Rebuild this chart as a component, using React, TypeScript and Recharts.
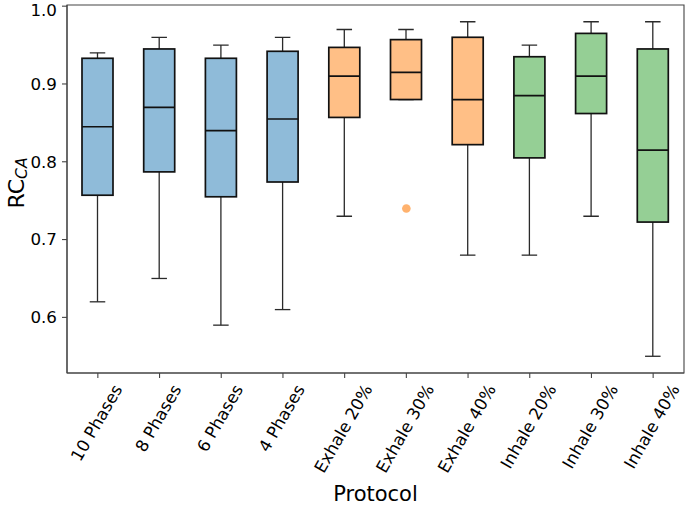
import React from "react";
import {
  ComposedChart,
  Bar,
  Scatter,
  XAxis,
  YAxis,
  ReferenceArea,
} from "recharts";

// box statistics
const categories = [
  "10 Phases",
  "8 Phases",
  "6 Phases",
  "4 Phases",
  "Exhale 20%",
  "Exhale 30%",
  "Exhale 40%",
  "Inhale 20%",
  "Inhale 30%",
  "Inhale 40%",
];
const whiskerLow = [0.62, 0.65, 0.59, 0.61, 0.73, 0.88, 0.68, 0.68, 0.73, 0.55];
const q1 = [0.757, 0.787, 0.755, 0.774, 0.857, 0.88, 0.822, 0.805, 0.862, 0.7225];
const median = [0.845, 0.87, 0.84, 0.855, 0.91, 0.915, 0.88, 0.885, 0.91, 0.815];
const q3 = [0.933, 0.945, 0.933, 0.942, 0.947, 0.957, 0.96, 0.935, 0.965, 0.945];
const whiskerHigh = [0.94, 0.96, 0.95, 0.96, 0.97, 0.97, 0.98, 0.95, 0.98, 0.98];
const outliers: (number | null)[] = [null, null, null, null, null, 0.74, null, null, null, null];
const groups = ["phase", "phase", "phase", "phase", "exhale", "exhale", "exhale", "inhale", "inhale", "inhale"];
const yTicks = [0.6, 0.7, 0.8, 0.9, 1.0];

const GROUP_FILL: Record<string, string> = {
  phase: "#8fbbd9",
  exhale: "#ffbf86",
  inhale: "#95cf95",
};

const FONT = "'DejaVu Sans', sans-serif";
const TICK_FS = 16.7;

if (typeof document !== "undefined") document.body.style.margin = "0";

const chartData = categories.map((name, i) => ({
  name,
  range: [whiskerLow[i], whiskerHigh[i]],
  low: whiskerLow[i],
  q1: q1[i],
  median: median[i],
  q3: q3[i],
  high: whiskerHigh[i],
  group: groups[i],
  outlier: outliers[i],
}));

let ctx: CanvasRenderingContext2D | null = null;
function textWidth(s: string) {
  if (!ctx) ctx = document.createElement("canvas").getContext("2d");
  if (!ctx) return s.length * TICK_FS * 0.6;
  ctx.font = `${TICK_FS}px 'DejaVu Sans'`;
  return ctx.measureText(s).width;
}

function BoxShape(props: any) {
  const { x, y, width, height, payload } = props;
  const top = Math.min(y, y + height);
  const bottom = Math.max(y, y + height);
  const { low, high } = payload;
  const py = (v: number) =>
    high === low ? top : top + ((high - v) / (high - low)) * (bottom - top);
  const cx = x + width / 2;
  const capHalf = width / 4;
  const yQ1 = py(payload.q1);
  const yQ3 = py(payload.q3);
  const yMed = py(payload.median);
  const w = { stroke: "#2a2a2a", strokeWidth: 1.3 };
  return (
    <g>
      {/* whiskers and caps */}
      <line x1={cx} x2={cx} y1={top} y2={yQ3} {...w} />
      <line x1={cx} x2={cx} y1={yQ1} y2={bottom} {...w} />
      <line x1={cx - capHalf} x2={cx + capHalf} y1={top} y2={top} {...w} />
      <line x1={cx - capHalf} x2={cx + capHalf} y1={bottom} y2={bottom} {...w} />
      {/* box */}
      <rect
        x={x}
        y={yQ3}
        width={width}
        height={yQ1 - yQ3}
        fill={GROUP_FILL[payload.group]}
        stroke="#111"
        strokeWidth={1.7}
      />
      <line x1={x} x2={x + width} y1={yMed} y2={yMed} stroke="#111" strokeWidth={1.7} />
    </g>
  );
}

function OutlierDot(p: any) {
  if (p.payload?.outlier == null || !Number.isFinite(p.cy)) return <g />;
  return <circle cx={p.cx} cy={p.cy} r={4.3} fill="#ff7f0e" fillOpacity={0.6} />;
}

function RotatedTick(props: any) {
  const { x, y, payload } = props;
  const label = String(payload.value);
  const L = textWidth(label);
  const a = 0.76 * TICK_FS;
  const d = 0.24 * TICK_FS;
  const bboxTop = y + 4.5;
  const ex = x + 0.25 * L + 0.433 * (a - d);
  const ey = bboxTop + 0.5 * a;
  return (
    <text
      x={ex}
      y={ey}
      textAnchor="end"
      fontSize={TICK_FS}
      fontFamily={FONT}
      fill="#000"
      transform={`rotate(-60, ${ex}, ${ey})`}
    >
      {label}
    </text>
  );
}

export default function App() {
  return (
    <ComposedChart
      width={685}
      height={506}
      data={chartData}
      margin={{ top: 5, right: 1, left: 0, bottom: 0 }}
    >
      <XAxis
        dataKey="name"
        type="category"
        height={133}
        interval={0}
        tickSize={5}
        tickMargin={0}
        tickLine={{ stroke: "#444", strokeWidth: 1.1 }}
        axisLine={{ stroke: "#444", strokeWidth: 1.1 }}
        tick={<RotatedTick />}
        label={{
          content: (p: any) => {
            const vb = p.viewBox || { x: 67, width: 617 };
            return (
              <text
                x={vb.x + vb.width / 2}
                y={501}
                textAnchor="middle"
                fontSize={21}
                fontFamily={FONT}
                fill="#000"
              >
                Protocol
              </text>
            );
          },
        }}
      />
      <YAxis
        type="number"
        domain={[0.5285, 1.0015]}
        ticks={yTicks}
        width={67}
        tickSize={5}
        tickMargin={5}
        allowDataOverflow
        tickFormatter={(v: number) => v.toFixed(1)}
        tick={{ fill: "#000", fontSize: TICK_FS, fontFamily: FONT }}
        tickLine={{ stroke: "#444", strokeWidth: 1.1 }}
        axisLine={{ stroke: "#444", strokeWidth: 1.1 }}
        label={{
          content: (p: any) => {
            const vb = p.viewBox || { y: 5, height: 368 };
            const cx = 23.5;
            const cy = vb.y + vb.height / 2 - 6;
            return (
              <text
                x={cx}
                y={cy}
                textAnchor="middle"
                fontFamily={FONT}
                fill="#000"
                transform={`rotate(-90, ${cx}, ${cy})`}
              >
                <tspan fontSize={22}>RC</tspan>
                <tspan fontSize={15.5} fontStyle="italic" dy={3}>
                  CA
                </tspan>
              </text>
            );
          },
        }}
      />
      <ReferenceArea
        y1={0.5285}
        y2={1.0015}
        fill="none"
        stroke="#444"
        strokeWidth={1.1}
        ifOverflow="visible"
      />
      <Bar
        dataKey="range"
        barSize={31}
        shape={<BoxShape />}
        isAnimationActive={false}
      />
      <Scatter
        dataKey="outlier"
        fill="#ff7f0e"
        shape={<OutlierDot />}
        isAnimationActive={false}
      />
    </ComposedChart>
  );
}
